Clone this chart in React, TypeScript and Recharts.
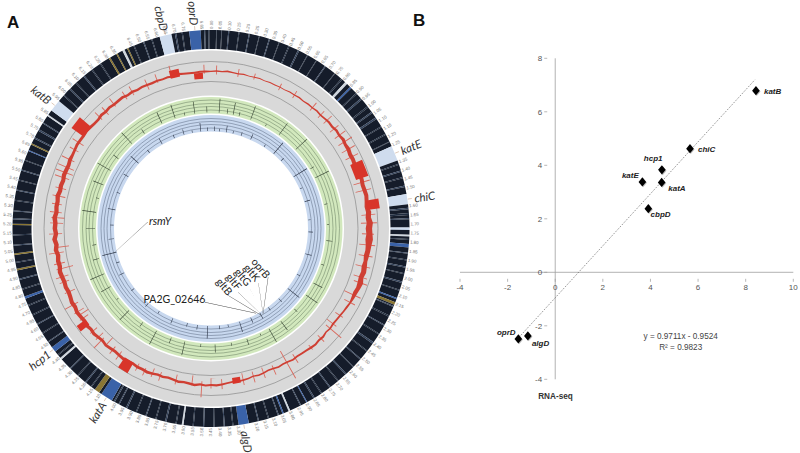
import { Pie, PieChart, PolarAngleAxis, PolarGrid, PolarRadiusAxis, Radar, RadarChart, ReferenceLine, Scatter, ScatterChart, XAxis, YAxis } from 'recharts';

// ---- panel A: circular genome map (positions in degrees clockwise from the top)
const tickLabels = [
  '0.00', '0.05', '0.10', '0.15', '0.20', '0.25', '0.30', '0.35', '0.40', '0.45',
  '0.50', '0.55', '0.60', '0.65', '0.70', '0.75', '0.80', '0.85', '0.90', '0.95',
  '1.00', '1.05', '1.10', '1.15', '1.20', '1.25', '', '1.35', '1.40', '1.45',
  '1.50', '', '1.60', '1.65', '1.70', '1.75', '1.80', '1.85', '1.90', '1.95',
  '2.00', '2.05', '2.10', '2.15', '2.20', '2.25', '2.30', '2.35', '2.40', '2.45',
  '2.50', '2.55', '2.60', '2.65', '2.70', '2.75', '2.80', '2.85', '2.90', '2.95',
  '3.00', '3.05', '3.10', '3.15', '3.20', '', '3.30', '3.35', '3.40', '3.45',
  '3.50', '3.55', '3.60', '3.65', '3.70', '3.75', '3.80', '3.85', '3.90', '3.95',
  '4.00', '', '4.10', '4.15', '4.20', '4.25', '4.30', '4.35', '4.40', '',
  '4.50', '4.55', '4.60', '4.65', '4.70', '4.75', '4.80', '4.85', '4.90', '4.95',
  '5.00', '5.05', '5.10', '5.15', '5.20', '5.25', '5.30', '5.35', '5.40', '5.45',
  '5.50', '5.55', '5.60', '5.65', '5.70', '5.75', '5.80', '5.85', '', '5.95',
  '6.00', '6.05', '6.10', '6.15', '6.20', '6.25', '6.30', '6.35', '', '6.45',
  '6.50', '6.55', '6.60', '6.65', '6.70', '6.75', '', '6.85',
];

const geneNames = ['katE', 'chiC', 'algD', 'katA', 'hcp1', 'katB', 'cbpD', 'oprD'];
const geneStart = [65.5, 80, 169, 210, 231.7, 306.5, 345, 353.7];
const geneSpan = [4.5, 3, 3, 3.5, 1.6, 3.5, 3.5, 3.3];
const geneKind = ['l', 'l', 'b', 'b', 'b', 'l', 'l', 'b'];

const stripeColors: Record<string, string> = {
  d: '#151c2a', s: '#212d40', m: '#35445c', w: '#cfd6de', b: '#3a62a8', g: '#8a7633', l: '#cfdcee',
};

const stripes: [number, number, string][] = [
  [1.5, 0.2, 's'], [3, 0.2, 's'], [5, 0.3, 'm'], [8, 0.25, 's'], [11, 0.3, 'm'], [14, 0.2, 's'], [17, 0.3, 'm'], [20, 0.2, 's'],
  [23, 0.3, 's'], [26, 0.4, 'm'], [29, 0.2, 's'], [32, 0.2, 's'], [35, 0.3, 'm'], [38.5, 0.2, 's'], [41, 0.4, 's'], [42.5, 0.8, 'w'],
  [44.5, 0.5, 'b'], [47, 0.3, 's'], [49, 0.5, 'm'], [52, 0.4, 's'], [54, 0.4, 'm'], [56, 0.5, 'm'], [59, 0.3, 's'], [61.5, 0.3, 's'],
  [64, 0.2, 's'], [71, 0.3, 's'], [73, 0.4, 'm'], [75, 0.3, 's'], [77.5, 0.4, 'm'], [84, 0.4, 'm'], [85.5, 0.6, 's'], [87, 0.3, 'm'],
  [89.7, 0.7, 'l'], [91.8, 0.5, 'w'], [93, 0.3, 's'], [94.5, 1, 'b'], [97, 0.3, 'm'], [99, 0.3, 's'], [101, 0.4, 'm'], [103, 0.3, 's'],
  [105.5, 0.4, 'm'], [108, 0.3, 's'], [110.5, 0.4, 'b'], [111.8, 0.8, 'g'], [113, 0.3, 'm'], [116, 0.4, 's'], [119, 0.3, 'm'], [122, 0.3, 's'],
  [125, 0.5, 'm'], [128, 0.3, 's'], [131, 0.3, 'm'], [134, 0.3, 's'], [137, 0.4, 'm'], [140, 0.3, 's'], [143, 0.3, 'm'], [146, 0.3, 's'],
  [148.5, 0.4, 'm'], [151, 0.3, 'b'], [153, 0.3, 'm'], [156.5, 0.5, 'w'], [158.5, 0.4, 'b'], [160, 0.3, 'm'], [163, 0.3, 's'], [166, 0.3, 'm'],
  [173.5, 0.3, 's'], [176, 0.3, 'm'], [179, 0.3, 's'], [182, 0.3, 'm'], [185, 0.3, 's'], [188, 0.5, 'w'], [190, 0.3, 's'], [193, 0.4, 'm'],
  [196, 0.3, 's'], [199, 0.3, 'm'], [202, 0.3, 's'], [205, 0.4, 'm'], [207.5, 0.3, 'm'], [209, 0.4, 'm'], [214.3, 1.5, 'g'], [217, 0.3, 's'],
  [219, 0.4, 'm'], [222, 0.3, 's'], [225, 0.3, 'm'], [228.8, 0.6, 'w'], [230.3, 0.3, 's'], [235, 0.3, 'm'], [238, 0.3, 's'], [241, 0.3, 'm'],
  [244, 0.3, 's'], [247, 0.3, 's'], [249.3, 0.7, 'b'], [252, 0.3, 's'], [255, 0.3, 'm'], [257.8, 0.5, 'g'], [260, 0.3, 's'], [262.3, 0.5, 'g'],
  [265, 0.3, 'm'], [268, 0.3, 's'], [271, 0.4, 'g'], [272.7, 0.3, 'm'], [275, 0.3, 'm'], [278, 0.3, 's'], [281, 0.3, 'm'], [284, 0.3, 's'],
  [287, 0.3, 'm'], [290, 0.3, 's'], [293, 0.3, 'b'], [295, 0.4, 'g'], [297, 0.4, 'm'], [299.5, 0.5, 'm'], [302, 0.3, 'm'], [304.5, 0.5, 'w'],
  [312, 0.3, 's'], [314.5, 0.4, 'm'], [317, 0.3, 's'], [320, 0.4, 'm'], [323, 0.3, 's'], [326, 0.3, 's'], [329, 0.5, 'g'], [331.5, 0.4, 'g'],
  [333.5, 0.7, 'w'], [335, 0.4, 'g'], [337, 0.3, 's'], [340, 0.3, 'm'], [342.5, 0.3, 's'], [349.5, 0.4, 'm'], [351.5, 0.3, 's'],
  [358, 0.3, 'm'], [359.2, 0.3, 's'],
];

// red track, one band every 2 degrees
const redLow = [
  156.4, 156.9, 156.6, 157, 156.7, 156.5, 157, 156.6, 156.8, 157.1,
  156.6, 156.9, 156.6, 156.8, 156.5, 157.1, 156.8, 157.2, 156.7, 157.1,
  156.9, 157.4, 156.8, 157.3, 157.6, 157, 157.9, 157.2, 157.7, 156.8,
  156.7, 155.5, 155.9, 155.2, 155.8, 156.1, 156.5, 155.7, 156.2, 156.8,
  156, 155.1, 155.9, 155, 155.8, 154.7, 155.5, 154.8, 155.6, 155.9,
  155.2, 156, 155.3, 156.2, 155.5, 156.1, 156.6, 155.8, 156.3, 156.9,
  155.9, 155.5, 154.8, 154.3, 153.9, 154.7, 154.1, 154.9, 154.3, 155.1,
  154.5, 153.8, 153.5, 153.2, 153.8, 153.1, 152.7, 153.3, 152.5, 152.2,
  152.9, 153.5, 152.8, 153.7, 154.1, 154.5, 154, 154.7, 155.3, 155.9,
  155.5, 156, 155.2, 156.1, 155.3, 154.8, 155.5, 154.6, 154, 154.7,
  154.3, 155.2, 155.8, 155.1, 155.5, 154.6, 155.1, 155.6, 155, 154.4,
  155, 155.7, 154.5, 155.2, 155.9, 155, 155.9, 154.9, 155.5, 156.1,
  154.8, 155.5, 154.4, 153.8, 154.5, 153.9, 154.4, 154.9, 153.6, 154.1,
  153, 154.3, 153.1, 154.5, 152.9, 153.9, 153.5, 154.4, 153.2, 153.9,
  153.6, 154.5, 153.4, 153.9, 153.3, 154.3, 154, 153.9, 154.9, 155.3,
  155.9, 156.5, 156.3, 156.1, 156.6, 156, 155.5, 155.3, 156.3, 155.9,
  156.7, 156.1, 156.4, 156.9, 155.9, 156.5, 155.7, 156.2, 156, 155.7,
  156.1, 155.8, 156.3, 155.7, 156.7, 156, 155.8, 155.5, 156.2, 156,
];
const redHigh = [
  157.8, 158.4, 157.9, 158.8, 158.1, 157.6, 158.3, 157.5, 157.9, 158.2,
  157.4, 158, 157.6, 157.8, 157.3, 158.2, 157.9, 158.6, 157.8, 158.5,
  158.3, 159, 158.4, 158.9, 159.8, 159.3, 160.5, 159.7, 161.1, 159.9,
  160.7, 159.5, 159.9, 159.3, 159.7, 160.1, 160.5, 159.8, 160.3, 160.8,
  160, 159.4, 161.1, 160.3, 162, 161.1, 161.6, 162.3, 161.4, 160.9,
  160.4, 159.8, 160.6, 161.3, 160.2, 161.8, 161, 160.1, 159.4, 158.6,
  158, 157.3, 156.6, 156.2, 155.8, 156.4, 155.6, 157, 156.3, 157.2,
  156.7, 155.8, 155.4, 155.1, 155.6, 154.8, 154.4, 155, 154.2, 153.8,
  154.6, 155.1, 154.3, 155.4, 155.8, 156.2, 155.7, 156.4, 157.3, 158,
  157.6, 158.1, 157.4, 158.5, 157.7, 157.2, 157.9, 157, 156.4, 157.2,
  156.8, 157.8, 158.6, 157.9, 158.3, 157.4, 158, 158.5, 157.8, 157.3,
  157.9, 158.6, 157.4, 158.1, 159.2, 158.3, 159.5, 158.7, 159.3, 160,
  158.8, 159.6, 158.5, 157.9, 158.7, 158.1, 158.8, 159.4, 158, 158.5,
  157.4, 158.8, 157.6, 159.2, 157.3, 158.4, 157.9, 159.1, 157.5, 158.2,
  157.8, 159, 157.6, 158.2, 157.4, 158.6, 158.1, 157.7, 158.8, 158.2,
  158.6, 159.4, 159.2, 159, 159.5, 158.9, 158.2, 158, 159.3, 158.6,
  159.4, 158.7, 159, 159.6, 158.4, 159.1, 158.1, 158.6, 158.3, 157.9,
  158.2, 157.8, 158.4, 157.7, 159, 158.1, 157.9, 157.5, 158.2, 158,
];

const blockStart = [65.5, 79.8, 169, 210, 231.7, 305.8, 345, 353.7];
const blockEnd = [71.5, 83.2, 172, 213.8, 234, 310.3, 348.5, 357];
const blockLow = [153, 157, 151, 155, 155, 157, 155, 150];
const blockHigh = [166, 170, 157, 167, 166, 172, 163, 156];

const redSpikes: [number, number, number][] = [
  [345.5, 156, 168], [340, 155, 164], [336, 152, 163], [330, 154, 164], [327, 154, 163], [322, 155, 165], [318, 153, 163], [315, 154, 164],
  [303, 152, 165], [300, 153, 163], [296, 152, 166], [293, 149, 166], [291, 148, 166], [289, 150, 165], [285, 150, 161], [282, 149, 162],
  [279, 151, 161], [276, 150, 162], [274, 147, 160], [272, 148, 161], [268, 149, 162], [263, 143, 158], [261, 149, 164], [257, 150, 161],
  [255, 143, 160], [252, 150, 163], [250, 151, 161], [246, 149, 160], [241, 152, 167], [238, 150, 161], [236.6, 147, 158], [235, 150, 160],
  [229, 151, 160], [226, 150, 160], [224.4, 153, 167], [222, 147, 158], [219, 152, 161], [216, 152, 162], [208, 153, 161], [205, 154, 162],
  [202, 151, 160], [199, 152, 161], [193, 150, 160], [187, 148, 158], [183.4, 153, 169], [180, 150, 160], [176, 151, 161], [168, 148, 160],
  [164, 149, 160], [160, 148, 159], [156, 150, 160], [150.5, 141, 172], [147, 150, 160], [140, 152, 158], [135, 151, 160], [130, 150, 170],
  [128, 147, 159], [124, 150, 159], [118, 151, 163], [115, 147, 165], [110, 152, 166], [108, 150, 164], [104, 149, 164], [100, 150, 164],
  [96, 149, 165], [92, 151, 163], [88, 150, 166], [85, 151, 165], [76, 149, 165], [73, 149, 166], [63, 151, 165], [60, 151, 166],
  [57, 152, 168], [54, 153, 166], [51, 153, 164], [47, 154, 165], [44, 154, 163], [40, 154, 164], [32, 154, 162], [26, 154, 161],
  [16, 155, 161], [10, 154, 162], [2, 154, 163], [357.5, 155, 164],
];

const greenSpikes: [number, number, number][] = [
  [4, 116, 130], [8, 116, 121], [11, 116, 128], [14, 116, 120], [20, 116, 130], [28, 116, 118], [36, 116, 130], [47, 116, 131],
  [59, 116, 120], [64, 116, 131], [78, 116, 119], [88, 116, 118], [96, 116, 122], [108, 116, 119], [118, 116, 126], [125, 116, 130],
  [134, 116, 120], [143, 116, 127], [150, 116, 131], [155, 116, 118], [162, 116, 122], [170, 116, 119], [178, 116, 124], [185, 116, 119],
  [193, 116, 130], [200, 116, 122], [208, 116, 131], [216, 116, 121], [225, 116, 129], [233, 116, 118], [240, 116, 127], [247, 116, 131],
  [255, 116, 122], [262, 116, 120], [270, 116, 125], [278, 116, 130], [285, 116, 119], [292, 116, 127], [300, 116, 131], [307, 116, 122],
  [317, 116, 131], [325, 116, 121], [335, 116, 128], [342, 116, 130], [347, 116, 119], [352, 116, 128], [358, 116, 122],
];

const blueSpikes: [number, number, number][] = [
  [2, 97.5, 102], [5, 97.5, 100], [9, 97.5, 104], [13, 97.5, 100], [18, 97.5, 101], [24, 97.5, 103], [33, 97.5, 100], [40, 97.5, 112],
  [46, 97.5, 101], [58, 97.5, 113], [66, 97.5, 100], [74, 97.5, 103], [85, 97.5, 100], [92, 97.5, 102], [105, 97.5, 104], [118, 97.5, 101],
  [128, 97.5, 112], [136, 97.5, 102], [144, 97.5, 101], [150, 97.5, 104], [156, 97.5, 103], [163, 97.5, 108], [170, 97.5, 100], [175, 97.5, 101],
  [182, 97.5, 110], [188, 97.5, 102], [194, 97.5, 101], [203, 97.5, 103], [212, 97.5, 100], [220, 97.5, 102], [232, 97.5, 101], [243, 97.5, 103],
  [250, 97.5, 101], [256, 97.5, 112], [264, 97.5, 103], [272, 97.5, 101], [281, 97.5, 105], [291, 97.5, 101], [302, 97.5, 103], [312, 97.5, 108],
  [321, 97.5, 101], [330, 97.5, 104], [338, 97.5, 101], [344, 97.5, 103], [349, 97.5, 100], [354, 97.5, 106], [358, 97.5, 101],
];

const leaders: [number, number, number, number][] = [
  [255.8, 100, 275.9, 63.3],
  [152, 95.7, 184.7, 73.7],
  [150, 100, 167, 67.2],
  [149.5, 100, 157, 69],
  [149, 100, 147, 70],
  [148.7, 100, 139, 72],
  [148.4, 99.2, 130.4, 74.8],
];

// A thin four-corner strip between two track positions. Between two strips the
// low and high edges coincide, so the range Radar paints nothing there.
const stripRows = (a1: number, r1lo: number, r1hi: number, a2: number, r2lo: number, r2hi: number) => [
  { pos: a1, band: [r1lo, r1lo] },
  { pos: a1, band: [r1lo, r1hi] },
  { pos: a2, band: [r2lo, r2hi] },
  { pos: a2, band: [r2lo, r2lo] },
];

const spikeTable = (list: [number, number, number][], halfWidth: number) =>
  list.flatMap(([pos, lo, hi]) => stripRows(pos - halfWidth, lo, hi, pos + halfWidth, lo, hi));

const bandTable = redLow.map((lo, i) => ({ pos: i * 2, band: [lo, redHigh[i]] }));
const redSpikeTable = spikeTable(redSpikes, 0.16);
const blockTable = blockStart.flatMap((s, i) => stripRows(s, blockLow[i], blockHigh[i], blockEnd[i], blockLow[i], blockHigh[i]));
const greenSpikeTable = spikeTable(greenSpikes, 0.15);
const blueSpikeTable = spikeTable(blueSpikes, 0.18);
const leaderTable = leaders.flatMap(([a1, r1, a2, r2]) => stripRows(a1, r1, r1 + 0.5, a2, r2, r2 + 0.5));

// stripes plus the gaps between them make up the full circle
const stripeTable = (() => {
  const marks = [
    ...stripes.map(([start, span, kind]) => ({ start, span, kind, gene: '' })),
    ...geneStart.map((start, i) => ({ start, span: geneSpan[i], kind: geneKind[i], gene: geneNames[i] })),
  ].sort((a, b) => a.start - b.start);
  const rows: { name: string; value: number; fill: string; stroke: string; gene: string }[] = [];
  let at = 0;
  marks.forEach((m) => {
    if (m.start > at) rows.push({ name: 'gap', value: m.start - at, fill: stripeColors.d, stroke: 'none', gene: '' });
    rows.push({ name: m.kind, value: m.span, fill: stripeColors[m.kind], stroke: 'none', gene: m.gene });
    at = m.start + m.span;
  });
  if (at < 360) rows.push({ name: 'gap', value: 360 - at, fill: stripeColors.d, stroke: 'none', gene: '' });
  return rows;
})();

const tickTable = tickLabels.map((name) => ({ name, value: 1 }));

const CX = 211;
const CY = 228.5;
const RAD = Math.PI / 180;
const layerStyle = { position: 'absolute', left: 0, top: 0 } as const;

function radialText(cx: number, cy: number, midAngle: number, r: number) {
  const x = cx + r * Math.cos(-midAngle * RAD);
  const y = cy + r * Math.sin(-midAngle * RAD);
  const right = Math.cos(-midAngle * RAD) >= 0;
  return { x, y, right, rot: right ? -midAngle : 180 - midAngle };
}

function tickLabel(props: any) {
  const { cx, cy, midAngle, name, index } = props;
  const { x, y, right, rot } = radialText(cx, cy, midAngle, 199.5);
  return (
    <text key={index} x={x} y={y} transform={`rotate(${rot} ${x} ${y})`} textAnchor={right ? 'start' : 'end'} dominantBaseline="central" fontSize={4.4} fontFamily="Liberation Sans" fill="#777">
      {name}
    </text>
  );
}

function geneLabel(props: any) {
  const { cx, cy, midAngle, payload, index } = props;
  const gene = payload?.gene;
  if (!gene) return null;
  const a = radialText(cx, cy, midAngle, 199);
  const b = radialText(cx, cy, midAngle, 203);
  const t = radialText(cx, cy, midAngle, 216);
  return (
    <g key={index}>
      <line x1={a.x} y1={a.y} x2={b.x} y2={b.y} stroke="#c9a58a" strokeWidth={0.6} />
      <text x={t.x} y={t.y} transform={`rotate(${t.rot} ${t.x} ${t.y})`} textAnchor="middle" dominantBaseline="central" fontSize={11.5} fontStyle="italic" fontFamily="Lato" fill="#333">
        {gene}
      </text>
    </g>
  );
}

function GenomeRings() {
  const ring = (name: string, fill: string, inner: number, outer: number) => (
    <Pie data={[{ name, value: 1, stroke: 'none' }]} dataKey="value" cx={CX} cy={CY} innerRadius={inner} outerRadius={outer} startAngle={90} endAngle={-270} fill={fill} stroke="none" isAnimationActive={false} />
  );
  return (
    <PieChart width={440} height={453} margin={{ top: 0, right: 0, bottom: 0, left: 0 }} style={layerStyle}>
      <Pie data={tickTable} dataKey="value" cx={CX} cy={CY} innerRadius={198} outerRadius={199} startAngle={91.3} endAngle={-268.7} fill="none" stroke="none" label={tickLabel} labelLine={false} isAnimationActive={false} />
      <Pie data={stripeTable} dataKey="value" cx={CX} cy={CY} innerRadius={179.5} outerRadius={198.5} startAngle={90} endAngle={-270} stroke="none" label={geneLabel} labelLine={false} isAnimationActive={false} />
      {ring('grey', '#d9d9d9', 133, 178)}
      {ring('green', '#d2e8bd', 115, 131.5)}
      {ring('blue', '#c8d8ef', 97, 113.5)}
    </PieChart>
  );
}

// one stacked radar layer per track, all sharing the same polar scales
function TrackLayer({ data, color, children }: { data: any[]; color: string; children?: any }) {
  return (
    <RadarChart width={440} height={453} data={data} cx={CX} cy={CY} innerRadius={0} outerRadius={200} startAngle={90} endAngle={-270} margin={{ top: 0, right: 0, bottom: 0, left: 0 }} style={layerStyle}>
      <PolarAngleAxis dataKey="pos" type="number" domain={[0, 360]} tick={false} axisLine={false} />
      <PolarRadiusAxis type="number" domain={[0, 200]} tick={false} axisLine={false} />
      {children}
      <Radar dataKey="band" fill={color} fillOpacity={1} stroke="none" dot={false} isAnimationActive={false} />
    </RadarChart>
  );
}

const annotationFont = { textAnchor: 'middle', dominantBaseline: 'central', fontFamily: 'Lato', fill: '#222' } as const;

function GenomeMap() {
  return (
    <>
      <GenomeRings />
      <TrackLayer data={greenSpikeTable} color="#3c4a38">
        <PolarGrid gridType="circle" radialLines={false} polarRadius={[147, 167]} stroke="#8a8a8a" strokeWidth={0.7} />
        <PolarGrid gridType="circle" radialLines={false} polarRadius={[118.5, 122, 125, 128.5]} stroke="#6d8264" strokeWidth={0.55} />
        <PolarGrid gridType="circle" radialLines={false} polarRadius={[100.5, 104, 107, 110]} stroke="#626f88" strokeWidth={0.55} />
      </TrackLayer>
      <TrackLayer data={blueSpikeTable} color="#323b4d" />
      <TrackLayer data={redSpikeTable} color="#d96a5e" />
      <TrackLayer data={bandTable} color="#cf3f33" />
      <TrackLayer data={blockTable} color="#d8352a" />
      <TrackLayer data={leaderTable} color="#444">
        <text x={160} y={220} {...annotationFont} fontSize={11} fontStyle="italic">rsmY</text>
        <text x={174.5} y={299} {...annotationFont} fontSize={10.5}>PA2G_02646</text>
        <text x={261} y={268} transform="rotate(50 261 268)" {...annotationFont} fontSize={10.5}>oprB</text>
        <text x={252} y={272.5} transform="rotate(50 252 272.5)" {...annotationFont} fontSize={10.5}>gltK</text>
        <text x={243} y={277} transform="rotate(50 243 277)" {...annotationFont} fontSize={10.5}>gltG</text>
        <text x={234} y={281.5} transform="rotate(50 234 281.5)" {...annotationFont} fontSize={10.5}>gltF</text>
        <text x={224.5} y={286.5} transform="rotate(50 224.5 286.5)" {...annotationFont} fontSize={10.5}>gltB</text>
      </TrackLayer>
    </>
  );
}

// ---- panel B: qPCR vs RNA-seq scatter
const scatterGenes = ['katB', 'chiC', 'hcp1', 'katA', 'katE', 'cbpD', 'algD', 'oprD'];
const scatterX = [8.43, 5.66, 4.48, 4.47, 3.66, 3.91, -1.15, -1.55];
const scatterY = [6.79, 4.62, 3.83, 3.36, 3.38, 2.38, -2.38, -2.49];
const labelDx = [16.7, 16.7, -8.7, 15.3, -12, 12.3, 12.7, -12];
const labelDy = [0.7, 1, -11.7, 6.3, -6, 6.3, 7.3, -6.7];
const xTicks = [-4, -2, 0, 2, 4, 6, 8, 10];
const yTicks = [-4, -2, 0, 2, 4, 6, 8];
const trendStart = { x: -1.49, y: -2.4 };
const trendEnd = { x: 8.39, y: 7.2 };

const scatterData = scatterGenes.map((name, i) => ({ name, x: scatterX[i], y: scatterY[i], dx: labelDx[i], dy: labelDy[i] }));

const PLOT_W = 333.3;
const PLOT_H = 321;
const axisFont = { fontFamily: 'Liberation Sans', fontSize: 8, fill: '#555' };

function XTick({ x, y, payload }: any) {
  const up = (PLOT_H / 12) * 4;
  return (
    <g>
      <line x1={x} x2={x} y1={y - up - 1.5} y2={y - up + 1.5} stroke="#999" strokeWidth={0.7} />
      <text x={x} y={y - up + 10} textAnchor="middle" {...axisFont}>{payload.value}</text>
    </g>
  );
}

function YTick({ x, y, payload }: any) {
  const across = (PLOT_W / 14) * 4;
  return (
    <g>
      <line x1={x + across - 3} x2={x + across} y1={y} y2={y} stroke="#999" strokeWidth={0.7} />
      <text x={x + across - 5} y={y + 2.8} textAnchor="end" {...axisFont}>{payload.value}</text>
    </g>
  );
}

function GeneDiamond({ cx, cy, payload }: any) {
  const diamond = (ox: number, oy: number) =>
    `${cx + ox},${cy + oy - 4.6} ${cx + ox + 3.8},${cy + oy} ${cx + ox},${cy + oy + 4.6} ${cx + ox - 3.8},${cy + oy}`;
  return (
    <g>
      <polygon points={diamond(0.8, 0.8)} fill="#bdbdbd" />
      <polygon points={diamond(0, 0)} fill="#000" />
      <text x={cx + payload.dx} y={cy + payload.dy} textAnchor="middle" dominantBaseline="central" fontFamily="Liberation Sans" fontSize={8} fontWeight="bold" fontStyle="italic" fill="#222">
        {payload.name}
      </text>
    </g>
  );
}

function FoldChangeScatter() {
  return (
    <ScatterChart width={370} height={453} margin={{ top: 58.3, right: 6.7, bottom: 72.7, left: 29 }} style={{ position: 'absolute', left: 430, top: 0 }}>
      <XAxis type="number" dataKey="x" domain={[-4, 10]} ticks={xTicks} interval={0} height={1} axisLine={false} tickLine={false} tick={XTick} />
      <YAxis type="number" dataKey="y" domain={[-4, 8]} ticks={yTicks} interval={0} width={1} axisLine={false} tickLine={false} tick={YTick} />
      <ReferenceLine x={0} stroke="#a0a0a0" strokeWidth={0.8} />
      <ReferenceLine y={0} stroke="#a0a0a0" strokeWidth={0.8} />
      <ReferenceLine segment={[trendStart, trendEnd]} stroke="#555" strokeWidth={0.8} strokeDasharray="1 1.4" />
      <Scatter data={scatterData} shape={GeneDiamond} isAnimationActive={false} />
      <text x={250.7} y={339} textAnchor="middle" fontFamily="Liberation Sans" fontSize={8.2} fill="#444">y = 0.9711x - 0.9524</text>
      <text x={250.7} y={349.5} textAnchor="middle" fontFamily="Liberation Sans" fontSize={8.2} fill="#444">R² = 0.9823</text>
      <text x={125.5} y={399} textAnchor="middle" fontFamily="Liberation Sans" fontSize={8.2} fontWeight="bold" fill="#333">RNA-seq</text>
    </ScatterChart>
  );
}

const panelLetter = { position: 'absolute', fontFamily: 'Liberation Sans', fontWeight: 'bold', fontSize: 17, lineHeight: '17px', color: '#111' } as const;

export default function App() {
  return (
    <div style={{ position: 'absolute', left: 0, top: 0, width: 800, height: 453, background: '#fff', overflow: 'hidden' }}>
      <GenomeMap />
      <FoldChangeScatter />
      <div style={{ ...panelLetter, left: 7, top: 14 }}>A</div>
      <div style={{ ...panelLetter, left: 413, top: 12 }}>B</div>
    </div>
  );
}
